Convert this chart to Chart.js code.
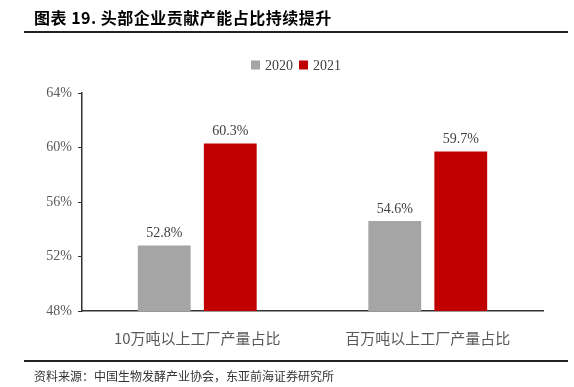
<!DOCTYPE html>
<html>
<head>
<meta charset="utf-8">
<script src="https://cdn.jsdelivr.net/npm/chart.js@4"></script>
<style>
  html, body { margin: 0; padding: 0; background: #ffffff; }
  #wrap { width: 574px; height: 387px; position: relative; }
</style>
</head>
<body>
<div id="wrap"><canvas id="c" width="574" height="387"></canvas></div>
<script>
const titleText = "图表 19. 头部企业贡献产能占比持续提升";
const sourceText = "资料来源：中国生物发酵产业协会，东亚前海证券研究所";
const categories = ["10万吨以上工厂产量占比", "百万吨以上工厂产量占比"];
const seriesNames = ["2020", "2021"];
const values2020 = [52.8, 54.6];
const values2021 = [60.3, 59.7];
const yTicks = [48, 52, 56, 60, 64];

const seriesColors = ["#A5A5A5", "#C00000"];
const serif = "'Liberation Serif', 'Times New Roman', serif";
const cjk = "'Noto Sans CJK SC', 'Noto Sans', sans-serif";

const framePlugin = {
  id: 'frame',
  beforeDraw(chart) {
    const ctx = chart.ctx;
    ctx.save();
    ctx.fillStyle = '#ffffff';
    ctx.fillRect(0, 0, chart.width, chart.height);
    // title
    ctx.fillStyle = '#000000';
    ctx.font = "bold 16px " + cjk;
    ctx.textBaseline = 'middle';
    ctx.textAlign = 'left';
    if ('letterSpacing' in ctx) ctx.letterSpacing = '0.5px';
    ctx.fillText(titleText, 34, 18);
    if ('letterSpacing' in ctx) ctx.letterSpacing = '0px';
    // rules
    ctx.strokeStyle = '#222222';
    ctx.lineWidth = 2;
    ctx.beginPath(); ctx.moveTo(24, 32); ctx.lineTo(568, 32); ctx.stroke();
    ctx.beginPath(); ctx.moveTo(24, 361); ctx.lineTo(568, 361); ctx.stroke();
    // source
    ctx.fillStyle = '#333333';
    ctx.font = "12px " + cjk;
    ctx.fillText(sourceText, 34, 376);
    // legend
    const ds = chart.data.datasets;
    ctx.font = "14px " + serif;
    let x = 251;
    const yc = 65;
    ds.forEach((d, i) => {
      ctx.fillStyle = d.backgroundColor;
      ctx.fillRect(x, yc - 4.5, 9, 9);
      x += 14;
      ctx.fillStyle = '#404040';
      ctx.textBaseline = 'middle';
      ctx.fillText(d.label, x, yc + 1);
      x += ctx.measureText(d.label).width + 6;
    });
    ctx.restore();
  },
  afterDatasetsDraw(chart) {
    const ctx = chart.ctx;
    ctx.save();
    ctx.font = "14px " + serif;
    ctx.fillStyle = '#404040';
    ctx.textAlign = 'center';
    ctx.textBaseline = 'bottom';
    chart.data.datasets.forEach((d, i) => {
      const meta = chart.getDatasetMeta(i);
      meta.data.forEach((bar, j) => {
        ctx.fillText(d.data[j].toFixed(1) + '%', bar.x, bar.y - 5);
      });
    });
    ctx.restore();
  }
};

new Chart(document.getElementById('c'), {
  type: 'bar',
  data: {
    labels: categories,
    datasets: [
      { label: seriesNames[0], data: values2020, backgroundColor: seriesColors[0] },
      { label: seriesNames[1], data: values2021, backgroundColor: seriesColors[1] }
    ]
  },
  options: {
    responsive: false,
    animation: false,
    devicePixelRatio: 1,
    categoryPercentage: 0.573,
    barPercentage: 0.8,
    layout: { padding: { left: 42, right: 31, top: 93, bottom: 36 } },
    plugins: { legend: { display: false }, tooltip: { enabled: false }, title: { display: false } },
    scales: {
      x: {
        grid: { display: false },
        border: { display: true, color: '#333333', width: 1.5 },
        ticks: { color: '#595959', font: { family: cjk, size: 15 }, padding: 10, maxRotation: 0 },
        afterFit(s) { s.height = 40; }
      },
      y: {
        min: yTicks[0],
        max: yTicks[yTicks.length - 1],
        afterBuildTicks(s) { s.ticks = yTicks.map(v => ({ value: v })); },
        grid: { display: true, drawOnChartArea: false, drawTicks: true, tickLength: 4, color: '#333333' },
        border: { display: true, color: '#333333', width: 1.5 },
        ticks: { color: '#595959', font: { family: serif, size: 14 }, padding: 6, callback: v => v + '%' },
        afterFit(s) { s.width = 40; }
      }
    }
  },
  plugins: [framePlugin]
});
</script>
</body>
</html>
